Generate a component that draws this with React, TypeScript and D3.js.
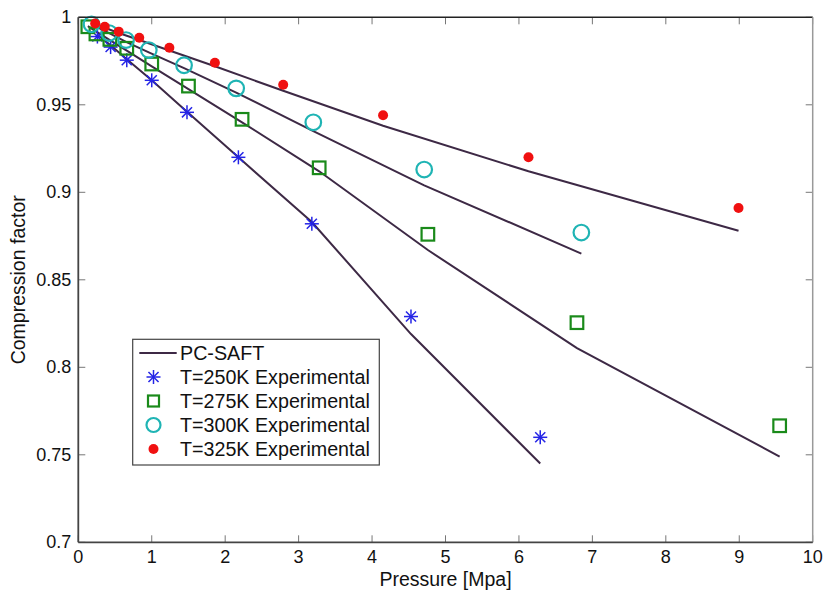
import React from "react";
import * as d3 from "d3";

// ---- data ----
const p250 = [0.26, 0.44, 0.66, 1.0, 1.48, 2.18, 3.18, 4.53, 6.29];
const zExp250 = [0.989, 0.983, 0.9755, 0.964, 0.9457, 0.92, 0.882, 0.829, 0.76];
const zModel250 = [0.99, 0.984, 0.976, 0.964, 0.946, 0.92, 0.883, 0.819, 0.745];

const p275 = [0.13, 0.24, 0.43, 0.66, 1.0, 1.5, 2.23, 3.28, 4.76, 6.79, 9.55];
const zExp275 = [0.9946, 0.9905, 0.9874, 0.9823, 0.9733, 0.9607, 0.9417, 0.914, 0.876, 0.8255, 0.7666];
const zModel275 = [0.995, 0.992, 0.987, 0.981, 0.972, 0.959, 0.94, 0.912, 0.867, 0.811, 0.749];

const p300 = [0.18, 0.42, 0.65, 0.96, 1.44, 2.15, 3.2, 4.71, 6.85];
const zExp300 = [0.996, 0.991, 0.987, 0.9813, 0.9726, 0.9594, 0.94, 0.913, 0.877];
const zModel300 = [0.996, 0.991, 0.986, 0.98, 0.971, 0.957, 0.935, 0.904, 0.865];

const p325 = [0.23, 0.36, 0.55, 0.83, 1.24, 1.86, 2.79, 4.15, 6.13, 8.99];
const zExp325 = [0.9965, 0.9946, 0.9918, 0.9883, 0.9826, 0.974, 0.9615, 0.944, 0.92, 0.891];
const zModel325 = [0.996, 0.994, 0.991, 0.987, 0.981, 0.972, 0.958, 0.938, 0.912, 0.878];

const xTicks = [0, 1, 2, 3, 4, 5, 6, 7, 8, 9, 10];
const yTicks = [0.7, 0.75, 0.8, 0.85, 0.9, 0.95, 1];
const legendLabels = [
  "PC-SAFT",
  "T=250K Experimental",
  "T=275K Experimental",
  "T=300K Experimental",
  "T=325K Experimental",
];

const LINE_COLOR = "#3d2945";
const BLUE = "#2424e6";
const GREEN = "#1a8a1a";
const CYAN = "#1fb4b4";
const RED = "#f01010";

const W = 826;
const H = 590;
const L = 78.3;
const R = 812.7;
const T = 17.3;
const B = 542.3;

const x = d3.scaleLinear().domain([0, 10]).range([L, R]);
const y = d3.scaleLinear().domain([0.7, 1]).range([B, T]);

const lineGen = d3
  .line<[number, number]>()
  .x((d) => x(d[0]))
  .y((d) => y(d[1]));

function Star({ cx, cy, s = 7 }: { cx: number; cy: number; s?: number }) {
  const d = s * 0.72;
  return (
    <g stroke={BLUE} strokeWidth={1.5}>
      <line x1={cx - s} y1={cy} x2={cx + s} y2={cy} />
      <line x1={cx} y1={cy - s} x2={cx} y2={cy + s} />
      <line x1={cx - d} y1={cy - d} x2={cx + d} y2={cy + d} />
      <line x1={cx - d} y1={cy + d} x2={cx + d} y2={cy - d} />
    </g>
  );
}

function Square({ cx, cy, s = 6.3 }: { cx: number; cy: number; s?: number }) {
  return (
    <rect x={cx - s} y={cy - s} width={2 * s} height={2 * s} fill="none" stroke={GREEN} strokeWidth={2.2} />
  );
}

function Circle({ cx, cy, r = 7.8 }: { cx: number; cy: number; r?: number }) {
  return <circle cx={cx} cy={cy} r={r} fill="none" stroke={CYAN} strokeWidth={2.2} />;
}

function Dot({ cx, cy, r = 5 }: { cx: number; cy: number; r?: number }) {
  return <circle cx={cx} cy={cy} r={r} fill={RED} />;
}

export default function App() {
  const models: [number[], number[]][] = [
    [p250, zModel250],
    [p275, zModel275],
    [p300, zModel300],
    [p325, zModel325],
  ];
  const font = "'Liberation Sans', Arial, sans-serif";
  const legX = 132.7;
  const legY = 339.3;
  const legRows = [353, 377, 401, 425, 449];

  return (
    <svg width={W} height={H} style={{ position: "absolute", left: 0, top: 0, background: "#fff" }} fontFamily={font}>
      <rect x={0} y={0} width={W} height={H} fill="#fff" />
      {/* ticks */}
      {xTicks.map((t) => (
        <g key={"xt" + t} stroke="#777" strokeWidth={1}>
          <line x1={x(t)} x2={x(t)} y1={B} y2={B - 7} />
          <line x1={x(t)} x2={x(t)} y1={T} y2={T + 7} />
        </g>
      ))}
      {yTicks.map((t) => (
        <g key={"yt" + t} stroke="#777" strokeWidth={1}>
          <line x1={L} x2={L + 7} y1={y(t)} y2={y(t)} />
          <line x1={R} x2={R - 7} y1={y(t)} y2={y(t)} />
        </g>
      ))}
      {/* model lines */}
      {models.map(([ps, zs], i) => (
        <path
          key={"m" + i}
          d={lineGen(ps.map((p, j) => [p, zs[j]] as [number, number])) || ""}
          fill="none"
          stroke={LINE_COLOR}
          strokeWidth={2}
        />
      ))}
      {/* experimental */}
      {p250.map((p, i) => (
        <Star key={"s" + i} cx={x(p)} cy={y(zExp250[i])} />
      ))}
      {p275.map((p, i) => (
        <Square key={"q" + i} cx={x(p)} cy={y(zExp275[i])} />
      ))}
      {p300.map((p, i) => (
        <Circle key={"c" + i} cx={x(p)} cy={y(zExp300[i])} />
      ))}
      {p325.map((p, i) => (
        <Dot key={"d" + i} cx={x(p)} cy={y(zExp325[i])} />
      ))}
      {/* axes frame */}
      <line x1={L} x2={R} y1={T} y2={T} stroke="#222" strokeWidth={1.5} />
      <line x1={R} x2={R} y1={T} y2={B} stroke="#999" strokeWidth={1.5} />
      <line x1={L} x2={L} y1={T} y2={B} stroke="#444" strokeWidth={1.8} />
      <line x1={L} x2={R} y1={B} y2={B} stroke="#444" strokeWidth={1.8} />
      {/* tick labels */}
      {xTicks.map((t) => (
        <text key={"xl" + t} x={x(t)} y={B + 20.5} fontSize={18} textAnchor="middle" fill="#111">
          {t}
        </text>
      ))}
      {yTicks.map((t) => (
        <text
          key={"yl" + t}
          x={L - 7}
          y={y(t)}
          fontSize={18}
          textAnchor="end"
          dominantBaseline="central"
          fill="#111"
        >
          {t}
        </text>
      ))}
      {/* axis labels */}
      <text x={(L + R) / 2} y={585.5} fontSize={19.5} textAnchor="middle" fill="#111">
        Pressure [Mpa]
      </text>
      <text
        transform={`translate(25,${(T + B) / 2}) rotate(-90)`}
        fontSize={19.5}
        textAnchor="middle"
        fill="#111"
      >
        Compression factor
      </text>
      {/* legend */}
      <rect x={legX} y={legY} width={246.6} height={125.7} fill="#fff" stroke="#444" strokeWidth={1.2} />
      <line x1={139.3} x2={176.7} y1={legRows[0]} y2={legRows[0]} stroke={LINE_COLOR} strokeWidth={2} />
      <Star cx={153.5} cy={legRows[1]} />
      <Square cx={153.5} cy={legRows[2]} s={5.5} />
      <Circle cx={153.5} cy={legRows[3]} r={7} />
      <Dot cx={153.5} cy={legRows[4]} r={5} />
      {legendLabels.map((lab, i) => (
        <text key={"lg" + i} x={180} y={legRows[i]} fontSize={19.7} dominantBaseline="central" fill="#111">
          {lab}
        </text>
      ))}
    </svg>
  );
}
